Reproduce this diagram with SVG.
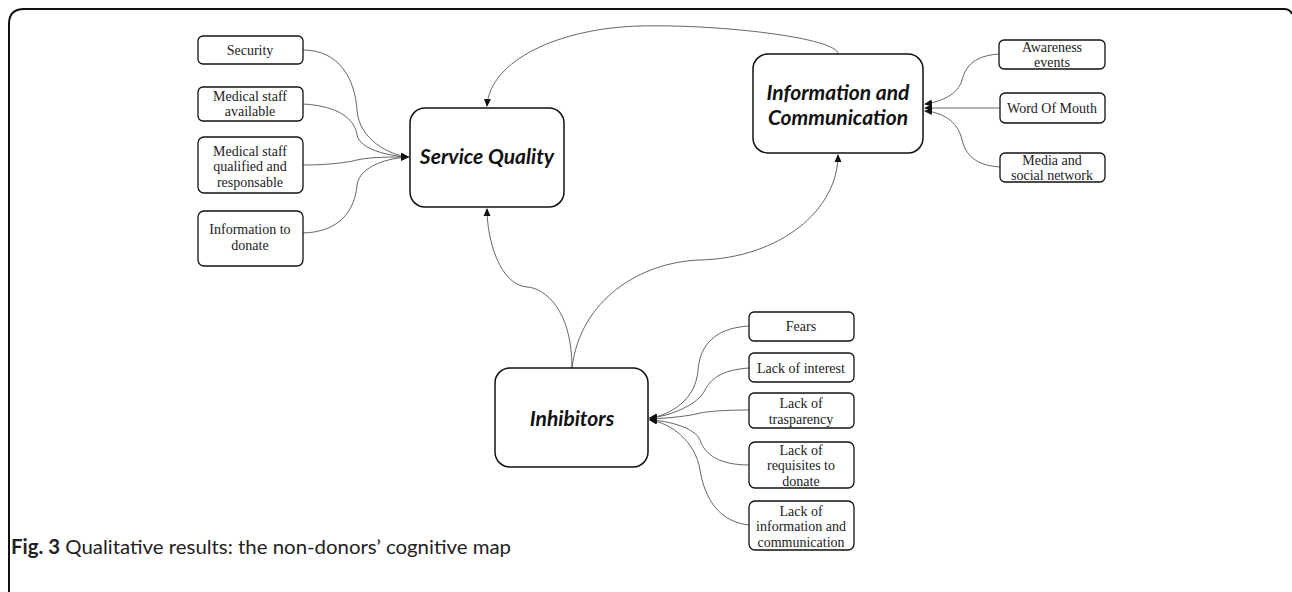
<svg xmlns="http://www.w3.org/2000/svg" width="1292" height="592" viewBox="0 0 1292 592">
<defs>
<marker id="ah" markerWidth="8" markerHeight="8" refX="7" refY="4" orient="auto" markerUnits="userSpaceOnUse">
<path d="M0,0.5 L8,4 L0,7.5 z" fill="#111"/>
</marker>
<style>
.box{fill:#fff;stroke:#111;stroke-width:1.3}
.main{fill:#fff;stroke:#111;stroke-width:1.5}
.st{font-family:"Liberation Serif",serif;font-size:14px;fill:#222;text-anchor:middle}
.mt{font-family:Lato,"Open Sans",sans-serif;font-size:21px;font-weight:bold;font-style:italic;fill:#111;text-anchor:middle}
.cn path{fill:none;stroke:#555;stroke-width:0.9}
.cap{font-family:Lato,"Open Sans",sans-serif;font-size:20px;fill:#222}
</style>
</defs>
<rect width="1292" height="592" fill="#fff"/>
<path d="M9,592 L9,24 Q9,9 24,9 L1284,9 Q1290,9 1292,14" fill="none" stroke="#111" stroke-width="2"/>

<g id="connectors" class="cn">
<path d="M838,54 C838,38 720,24 640,26 C560,28 490,60 487,106" marker-end="url(#ah)"/>
<path d="M572,368 C572,310 545,288 527,287 C500,285 487,240 487,209" marker-end="url(#ah)"/>
<path d="M572,368 C580,300 640,262 700,260 C780,258 838,210 838,155" marker-end="url(#ah)"/>
<path d="M303,50 C340,50 355,80 357,110 C359,140 390,155 408,157" marker-end="url(#ah)"/>
<path d="M303,104 C340,106 355,120 357,135 C360,150 390,156 408,157" marker-end="url(#ah)"/>
<path d="M303,165 C330,165 350,162 357,160 C370,157 390,157 408,157" marker-end="url(#ah)"/>
<path d="M303,233 C340,232 355,210 357,185 C360,165 390,158 408,157" marker-end="url(#ah)"/>
<path d="M999,54 C970,56 965,70 962,80 C958,95 940,102 925,104" marker-end="url(#ah)"/>
<path d="M1000,108 L925,108" marker-end="url(#ah)"/>
<path d="M1000,167 C970,165 965,150 962,140 C958,120 940,112 925,111" marker-end="url(#ah)"/>
<path d="M749,326 C715,328 700,345 698,370 C696,400 670,415 650,418" marker-end="url(#ah)"/>
<path d="M749,368 C720,370 710,380 705,390 C698,405 670,416 650,418" marker-end="url(#ah)"/>
<path d="M749,410 C720,410 705,412 700,413 C690,416 670,418 650,419" marker-end="url(#ah)"/>
<path d="M749,465 C720,465 705,455 700,440 C695,428 670,421 650,420" marker-end="url(#ah)"/>
<path d="M749,525 C720,522 705,500 700,470 C695,440 670,423 650,420" marker-end="url(#ah)"/>
</g>

<g id="service-quality"><rect class="main" x="410" y="108" width="154" height="99" rx="15"/><text class="mt" x="487" y="164">Service Quality</text></g>
<g id="info-comm"><rect class="main" x="753" y="54" width="170" height="99" rx="15"/><text class="mt" x="838" y="100">Information and</text><text class="mt" x="838" y="125">Communication</text></g>
<g id="inhibitors"><rect class="main" x="495" y="368" width="153" height="99" rx="15"/><text class="mt" x="572" y="426">Inhibitors</text></g>

<g id="security"><rect class="box" x="198" y="36" width="105" height="28" rx="5"/><text class="st" x="250" y="55">Security</text></g>
<g id="med-available"><rect class="box" x="198" y="87" width="105" height="34" rx="5"/><text class="st" x="250" y="101">Medical staff</text><text class="st" x="250" y="116">available</text></g>
<g id="med-qualified"><rect class="box" x="198" y="137" width="105" height="56" rx="6"/><text class="st" x="250" y="156">Medical staff</text><text class="st" x="250" y="171">qualified and</text><text class="st" x="250" y="187">responsable</text></g>
<g id="info-donate"><rect class="box" x="198" y="211" width="105" height="55" rx="6"/><text class="st" x="250" y="234">Information to</text><text class="st" x="250" y="250">donate</text></g>

<g id="awareness"><rect class="box" x="999" y="40" width="106" height="29" rx="5"/><text class="st" x="1052" y="52">Awareness</text><text class="st" x="1052" y="67">events</text></g>
<g id="wom"><rect class="box" x="1000" y="93" width="105" height="30" rx="5"/><text class="st" x="1052" y="113">Word Of Mouth</text></g>
<g id="media"><rect class="box" x="1000" y="153" width="105" height="29" rx="5"/><text class="st" x="1052" y="165">Media and</text><text class="st" x="1052" y="180">social network</text></g>

<g id="fears"><rect class="box" x="749" y="312" width="105" height="29" rx="5"/><text class="st" x="801" y="331">Fears</text></g>
<g id="lack-interest"><rect class="box" x="749" y="353" width="105" height="29" rx="5"/><text class="st" x="801" y="373">Lack of interest</text></g>
<g id="lack-trasparency"><rect class="box" x="749" y="393" width="105" height="35" rx="5"/><text class="st" x="801" y="408">Lack of</text><text class="st" x="801" y="424">trasparency</text></g>
<g id="lack-requisites"><rect class="box" x="749" y="442" width="105" height="46" rx="6"/><text class="st" x="801" y="455">Lack of</text><text class="st" x="801" y="470">requisites to</text><text class="st" x="801" y="486">donate</text></g>
<g id="lack-info"><rect class="box" x="749" y="501" width="105" height="49" rx="6"/><text class="st" x="801" y="516">Lack of</text><text class="st" x="801" y="531">information and</text><text class="st" x="801" y="547">communication</text></g>

<text class="cap" x="11" y="554" textLength="500" lengthAdjust="spacingAndGlyphs"><tspan font-weight="bold">Fig. 3</tspan> Qualitative results: the non-donors’ cognitive map</text>
</svg>
